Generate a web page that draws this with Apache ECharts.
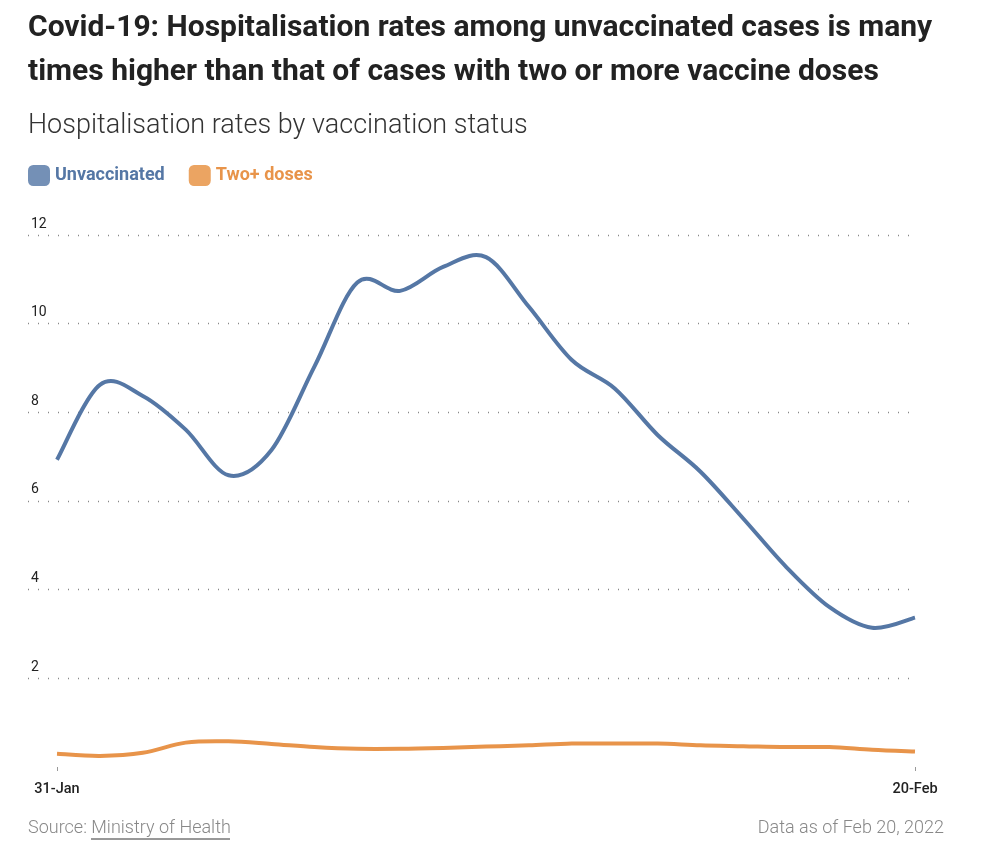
<!DOCTYPE html>
<html>
<head>
<meta charset="utf-8">
<script src="https://cdn.jsdelivr.net/npm/echarts@6/dist/echarts.min.js"></script>
<style>
  html, body { margin: 0; padding: 0; background: #fff; }
  #main { width: 984px; height: 852px; }
</style>
</head>
<body>
<div id="main"></div>
<script>
var dates = ['31-Jan', '1-Feb', '2-Feb', '3-Feb', '4-Feb', '5-Feb', '6-Feb', '7-Feb', '8-Feb', '9-Feb',
    '10-Feb', '11-Feb', '12-Feb', '13-Feb', '14-Feb', '15-Feb', '16-Feb', '17-Feb', '18-Feb', '19-Feb', '20-Feb'];
var unvaccinated = [6.93, 8.62, 8.37, 7.61, 6.58, 7.15, 9.03, 10.93, 10.74, 11.28, 11.5,
    10.38, 9.18, 8.54, 7.49, 6.66, 5.6, 4.51, 3.61, 3.14, 3.37];
var twoPlusDoses = [0.3, 0.25, 0.32, 0.55, 0.58, 0.52, 0.45, 0.41, 0.41, 0.43, 0.46,
    0.49, 0.53, 0.53, 0.53, 0.49, 0.47, 0.45, 0.45, 0.39, 0.35];
var yTicks = [2, 4, 6, 8, 10, 12];

var blue = '#5577a5';
var orange = '#e8944a';
var font = 'Roboto, "Noto Sans", sans-serif';

// smooth line through every point (catmull-rom), drawn once per series
function splineRenderer(values, color) {
    return function (params, api) {
        if (params.dataIndex !== 0) return null;
        var pts = values.map(function (v, i) { return api.coord([i, v]); });
        var d = 'M' + pts[0][0] + ',' + pts[0][1];
        for (var i = 0; i < pts.length - 1; i++) {
            var p0 = pts[Math.max(i - 1, 0)];
            var p1 = pts[i];
            var p2 = pts[i + 1];
            var p3 = pts[Math.min(i + 2, pts.length - 1)];
            var c1x = p1[0] + (p2[0] - p0[0]) / 6, c1y = p1[1] + (p2[1] - p0[1]) / 6;
            var c2x = p2[0] - (p3[0] - p1[0]) / 6, c2y = p2[1] - (p3[1] - p1[1]) / 6;
            d += ' C' + c1x + ',' + c1y + ' ' + c2x + ',' + c2y + ' ' + p2[0] + ',' + p2[1];
        }
        return {
            type: 'path',
            shape: { pathData: d },
            style: { fill: 'none', stroke: color, lineWidth: 4, lineJoin: 'round' },
            silent: true
        };
    };
}

var myChart = echarts.init(document.getElementById('main'));

myChart.setOption({
    animation: false,
    textStyle: { fontFamily: font },
    title: [{
        text: 'Covid-19: Hospitalisation rates among unvaccinated cases is many\ntimes higher than that of cases with two or more vaccine doses',
        left: 28,
        top: 6,
        padding: 0,
        textStyle: {
            fontFamily: font,
            fontSize: 30,
            fontWeight: 'bold',
            lineHeight: 44,
            color: '#222'
        }
    }, {
        text: 'Hospitalisation rates by vaccination status',
        left: 28,
        top: 113,
        padding: 0,
        textStyle: {
            fontFamily: font,
            fontSize: 27,
            fontWeight: 300,
            color: '#333'
        }
    }],
    legend: {
        left: 28,
        top: 165,
        padding: 0,
        icon: 'roundRect',
        itemWidth: 22,
        itemHeight: 21,
        itemGap: 24,
        selectedMode: false,
        textStyle: { fontFamily: font, fontSize: 18, fontWeight: 'bold' },
        data: [{
            name: 'Unvaccinated',
            itemStyle: { color: '#7490b6' },
            textStyle: { color: blue }
        }, {
            name: 'Two+ doses',
            itemStyle: { color: '#eba462' },
            textStyle: { color: orange }
        }]
    },
    grid: [
        // gridlines and y labels
        { left: 28, right: 72, top: 235, bottom: 174 },
        // data
        { left: 57, right: 69, top: 235, bottom: 85 }
    ],
    xAxis: [{
        gridIndex: 0,
        type: 'category',
        data: dates,
        show: false
    }, {
        gridIndex: 1,
        type: 'category',
        data: dates,
        boundaryGap: false,
        axisLine: { show: false },
        axisTick: {
            show: true,
            length: 4,
            interval: function (i) { return i === 0 || i === dates.length - 1; },
            lineStyle: { color: '#999' }
        },
        axisLabel: {
            interval: function (i) { return i === 0 || i === dates.length - 1; },
            margin: 15,
            fontFamily: font,
            fontSize: 14.5,
            fontWeight: 500,
            color: '#222'
        },
        splitLine: { show: false }
    }],
    yAxis: [{
        gridIndex: 0,
        type: 'value',
        min: yTicks[0],
        max: yTicks[yTicks.length - 1],
        interval: 2,
        axisLine: { show: false },
        axisTick: { show: false },
        axisLabel: {
            inside: true,
            margin: 3,
            verticalAlign: 'bottom',
            padding: [0, 0, 4, 0],
            fontFamily: font,
            fontSize: 14,
            color: '#222'
        },
        splitLine: {
            show: true,
            lineStyle: { color: '#888', width: 1.3, type: [1, 9] }
        }
    }, {
        gridIndex: 1,
        type: 'value',
        min: 0,
        max: 12,
        show: false
    }],
    series: [{
        name: 'Unvaccinated',
        type: 'custom',
        xAxisIndex: 1,
        yAxisIndex: 1,
        data: unvaccinated.map(function (v, i) { return [i, v]; }),
        encode: { x: 0, y: 1 },
        itemStyle: { color: blue },
        renderItem: splineRenderer(unvaccinated, blue)
    }, {
        name: 'Two+ doses',
        type: 'custom',
        xAxisIndex: 1,
        yAxisIndex: 1,
        data: twoPlusDoses.map(function (v, i) { return [i, v]; }),
        encode: { x: 0, y: 1 },
        itemStyle: { color: orange },
        renderItem: splineRenderer(twoPlusDoses, orange)
    }],
    graphic: [{
        type: 'text',
        left: 28,
        top: 819,
        style: {
            text: 'Source: Ministry of Health',
            font: '300 18px ' + font,
            fill: '#888'
        }
    }, {
        type: 'line',
        shape: { x1: 91, y1: 839, x2: 230, y2: 839 },
        style: { stroke: '#333', lineWidth: 1 }
    }, {
        type: 'text',
        right: 40,
        top: 819,
        style: {
            text: 'Data as of Feb 20, 2022',
            font: '300 18px ' + font,
            fill: '#888'
        }
    }]
});
</script>
</body>
</html>
